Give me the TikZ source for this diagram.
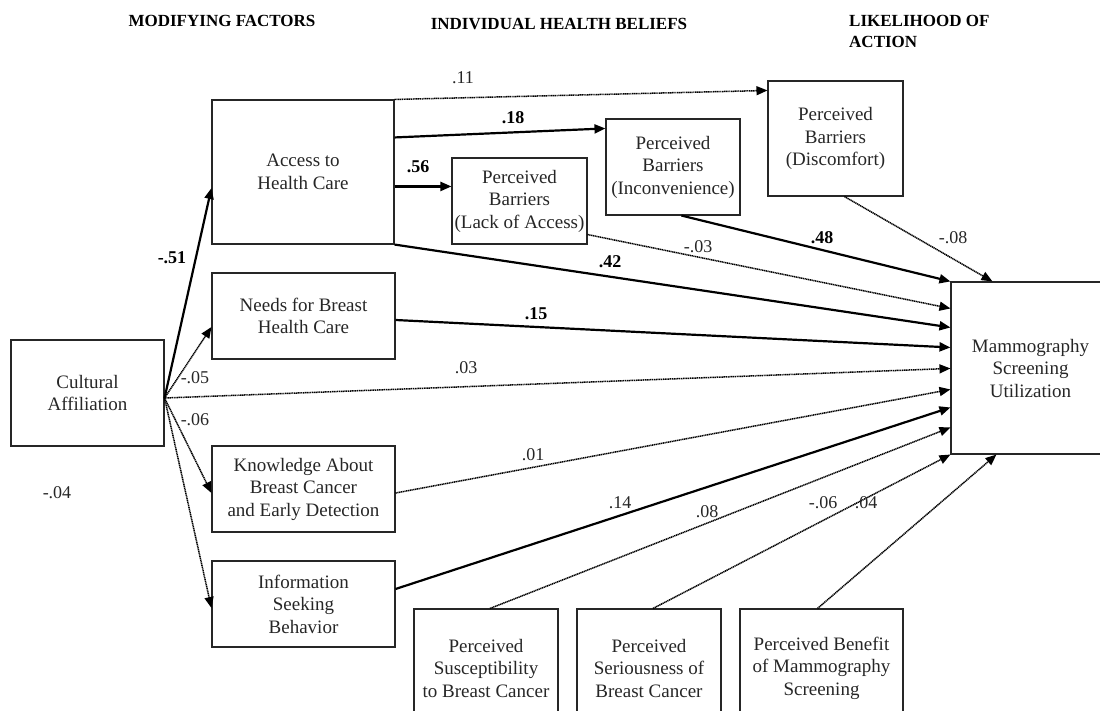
\documentclass[tikz,border=0pt]{standalone}
\usepackage{fontspec}
\setmainfont{Liberation Serif}
\usetikzlibrary{arrows.meta,calc}
\begin{document}
\begin{tikzpicture}[x=1pt,y=-1pt,
  box/.style={draw=black!85,line width=1.1pt,rectangle,inner sep=0pt,align=center,
    font=\fontsize{19}{22.5}\selectfont,text=black!85},
  strong/.style={line width=2.2pt,-{Triangle[length=11pt,width=9pt]}},
  weak/.style={line width=1.5pt,dash pattern=on 1.2pt off 0.6pt,-{Triangle[length=11pt,width=9pt]}},
  coef/.style={font=\fontsize{18}{20}\selectfont,inner sep=0pt,text=black!85},
  bcoef/.style={font=\fontsize{18}{20}\selectfont\bfseries,inner sep=0pt},
  head/.style={font=\fontsize{17}{21}\selectfont\bfseries,inner sep=0pt}]
\useasboundingbox (0,0) rectangle (1100,711);
\clip (0,0) rectangle (1100,711);

% headers
\node[head] (h1) at (222,21) {MODIFYING FACTORS};
\node[head] (h2) at (559,24) {INDIVIDUAL HEALTH BELIEFS};
\node[head,align=left,anchor=west] (h3) at (849,31) {LIKELIHOOD OF\\ACTION};

% boxes
\node[box,minimum width=153pt,minimum height=106pt] (cult) at (87.5,393) {Cultural\\Affiliation};
\node[box,minimum width=182pt,minimum height=144pt] (access) at (303,172) {Access to\\Health Care};
\node[box,minimum width=183pt,minimum height=86pt] (needs) at (303.5,316) {Needs for Breast\\Health Care};
\node[box,minimum width=183pt,minimum height=86pt] (know) at (303.5,489) {Knowledge About\\Breast Cancer\\and Early Detection};
\node[box,minimum width=183pt,minimum height=86pt] (info) at (303.5,604) {Information\\Seeking\\Behavior};
\node[box,minimum width=135pt,minimum height=86pt] (lack) at (519.5,201) {Perceived\\Barriers\\(Lack of Access)};
\node[box,minimum width=134pt,minimum height=96pt] (incon) at (673,167) {Perceived\\Barriers\\(Inconvenience)};
\node[box,minimum width=135pt,minimum height=115pt] (disc) at (835.5,138.5) {Perceived\\Barriers\\(Discomfort)};
\node[box,minimum width=159pt,minimum height=172pt] (mammo) at (1030.5,368) {Mammography\\Screening\\Utilization};
\node[box,minimum width=144pt,minimum height=118pt] (susc) at (486,668) {Perceived\\Susceptibility\\to Breast Cancer};
\node[box,minimum width=144pt,minimum height=118pt] (seri) at (649,668) {Perceived\\Seriousness of\\Breast Cancer};
\node[box,minimum width=163pt,minimum height=118pt] (bene) at (821.5,668) {Perceived Benefit\\of Mammography\\Screening};

\coordinate (o) at ($(cult.east)+(0,5)$);

% from cultural affiliation
\draw[strong] (o) -- ($(access.west)+(0,16)$);
\draw[weak] (o) -- ($(needs.west)+(0,11)$);
\draw[weak] (o) -- ($(know.west)+(0,4)$);
\draw[weak] (o) -- ($(info.west)+(0,4)$);
\draw[weak] (o) -- ($(mammo.north west)+(0,87)$);

% from access
\draw[weak] (access.north east) -- ($(disc.north west)+(0,10)$);
\draw[strong] ($(access.north east)+(0,38)$) -- ($(incon.north west)+(0,10)$);
\draw[strong] ($(access.north east)+(0,87)$) -- ($(lack.north west)+(0,29)$);
\draw[strong] (access.south east) -- ($(mammo.north west)+(0,46)$);

% barriers to mammography
\draw[weak] ($(lack.south east)+(0,-10)$) -- ($(mammo.north west)+(0,27)$);
\draw[strong] ($(incon.south west)+(76,0)$) -- (mammo.north west);
\draw[weak] ($(disc.south west)+(77,0)$) -- ($(mammo.north west)+(42,0)$);

% modifying factors to mammography
\draw[strong] ($(needs.east)+(0,4)$) -- ($(mammo.north west)+(0,66)$);
\draw[weak] ($(know.east)+(0,4)$) -- ($(mammo.north west)+(0,108)$);
\draw[strong] ($(info.east)+(0,-15)$) -- ($(mammo.north west)+(0,126)$);

% beliefs bottom
\draw[weak] ($(susc.north)+(4,0)$) -- ($(mammo.north west)+(0,146)$);
\draw[weak] ($(seri.north)+(4,0)$) -- (mammo.south west);
\draw[weak] ($(bene.north)+(-4,0)$) -- ($(mammo.south west)+(46,0)$);

% coefficients
\node[bcoef] (c1) at (172,258) {-.51};
\node[coef] (c2) at (195,378) {-.05};
\node[coef] (c3) at (195,420) {-.06};
\node[coef] (c4) at (57,493) {-.04};
\node[coef] (c5) at (466,368) {.03};
\node[coef] (c6) at (533,455) {.01};
\node[coef] (c7) at (620,503) {.14};
\node[coef] (c8) at (707,512) {.08};
\node[coef] (c9) at (823,503) {-.06};
\node[coef] (c10) at (866,503) {.04};
\node[bcoef] (c11) at (536,314) {.15};
\node[bcoef] (c12) at (610,262) {.42};
\node[coef] (c13) at (698,247) {-.03};
\node[bcoef] (c14) at (822,238) {.48};
\node[coef] (c15) at (953,238) {-.08};
\node[bcoef] (c16) at (513,118) {.18};
\node[bcoef] (c17) at (418,167) {.56};
\node[coef] (c18) at (463,78) {.11};
\end{tikzpicture}
\end{document}
